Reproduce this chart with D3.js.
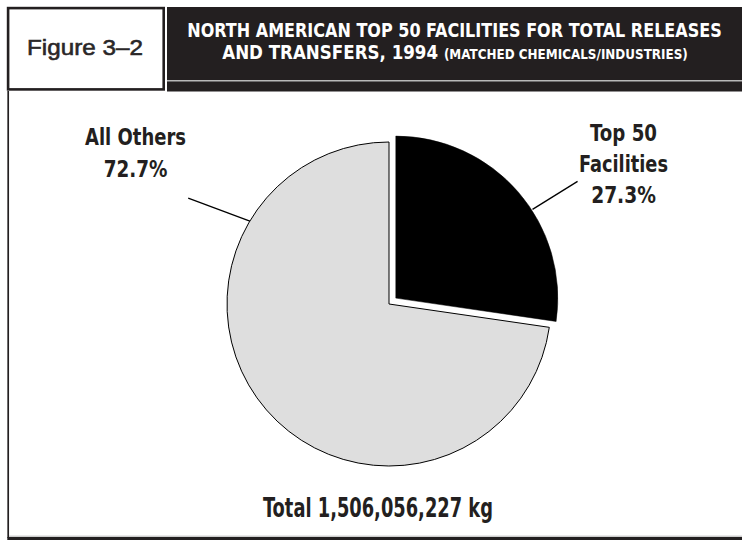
<!DOCTYPE html>
<html>
<head>
<meta charset="utf-8">
<script src="https://cdn.jsdelivr.net/npm/d3@7"></script>
<style>
  html, body { margin: 0; padding: 0; background: #fff; }
  svg { display: block; }
</style>
</head>
<body>
<svg id="chart" width="742" height="540"></svg>
<script>
// ---- data ----
const categories = ["Top 50 Facilities", "All Others"];
const values = [27.3, 72.7];
const labelLines = [["Top 50", "Facilities", "27.3%"], ["All Others", "72.7%"]];
const figureLabel = "Figure 3\u20132";
const titleLine1 = "NORTH AMERICAN TOP 50 FACILITIES FOR TOTAL RELEASES";
const titleLine2a = "AND TRANSFERS, 1994 ";
const titleLine2b = "(MATCHED CHEMICALS/INDUSTRIES)";
const totalLabel = "Total 1,506,056,227 kg";

const dark = "#231f20";
const condensed = "'Liberation Sans Narrow', 'DejaVu Sans Condensed', 'Liberation Sans', sans-serif";
const svg = d3.select("#chart");

// fit text horizontally: anchor middle at (cx, y), scale x to target width
function fitText(g, cx, y, targetW) {
  const t = g.select("text");
  const w = t.node().getBBox().width;
  g.attr("transform", `translate(${cx},${y}) scale(${targetW / w},1)`);
}

// ---- header ----
svg.append("rect").attr("x", 167).attr("y", 7).attr("width", 575).attr("height", 84.5).attr("fill", dark);
svg.append("line").attr("x1", 167).attr("x2", 742).attr("y1", 80.8).attr("y2", 80.8)
  .attr("stroke", "#b8b8b8").attr("stroke-width", 1.4);
svg.append("rect").attr("x", 8.1).attr("y", 8.1).attr("width", 155.6).attr("height", 81.3)
  .attr("fill", "#fff").attr("stroke", dark).attr("stroke-width", 2.6);

let g = svg.append("g");
g.append("text").attr("text-anchor", "middle").attr("font-family", "'Liberation Sans', Arial, sans-serif")
  .attr("font-weight", "normal").attr("font-size", 23).attr("fill", "#2a2728")
  .attr("stroke", "#2a2728").attr("stroke-width", 0.6).text(figureLabel);
fitText(g, 85, 55, 116);

g = svg.append("g");
g.append("text").attr("text-anchor", "middle").attr("font-family", condensed)
  .attr("font-weight", "bold").attr("font-size", 19.5).attr("fill", "#fff").text(titleLine1);
fitText(g, 454.5, 37, 535);

g = svg.append("g");
const t2 = g.append("text").attr("text-anchor", "middle").attr("font-family", condensed)
  .attr("font-weight", "bold").attr("fill", "#fff");
t2.append("tspan").attr("font-size", 19.5).text(titleLine2a);
t2.append("tspan").attr("font-size", 14).text(titleLine2b);
fitText(g, 455, 59, 466);

// ---- panel borders ----
svg.append("line").attr("x1", 8.2).attr("x2", 8.2).attr("y1", 91).attr("y2", 538)
  .attr("stroke", dark).attr("stroke-width", 1.7);
svg.append("line").attr("x1", 9).attr("x2", 742).attr("y1", 536.2).attr("y2", 536.2)
  .attr("stroke", "#b8b8b8").attr("stroke-width", 1);
svg.append("rect").attr("x", 7.3).attr("y", 537).attr("width", 735).attr("height", 3).attr("fill", dark);

// ---- pie ----
const cx = 389, cy = 304, r = 162;
const pie = d3.pie().sort(null).value(d => d)(values);
const arc = d3.arc().innerRadius(0).outerRadius(r);
const fills = ["#000000", "#dedede"];
const strokes = ["#000000", "#000000"];
const explode = [9, 0];

const slices = svg.append("g").attr("transform", `translate(${cx},${cy})`);
pie.forEach((p, i) => {
  const mid = (p.startAngle + p.endAngle) / 2;
  const dx = Math.sin(mid) * explode[i], dy = -Math.cos(mid) * explode[i];
  slices.append("path")
    .attr("d", arc(p))
    .attr("transform", `translate(${dx},${dy})`)
    .attr("fill", fills[i])
    .attr("stroke", strokes[i])
    .attr("stroke-width", i === 0 ? 0.5 : 1)
    .attr("stroke-linejoin", "miter");
});

// ---- leader lines (angle in degrees clockwise from 12 o'clock) ----
const leaders = [
  { inner: [57, r + 1], outer: [57.3, 216] },
  { inner: [300.8, r], outer: [297.8, 227] }
];
leaders.forEach((L, i) => {
  const p = pie[i];
  const mid = (p.startAngle + p.endAngle) / 2;
  const ox = Math.sin(mid) * explode[i], oy = -Math.cos(mid) * explode[i];
  const pt = ([a, rr]) => [cx + ox + Math.sin(a * Math.PI / 180) * rr, cy + oy - Math.cos(a * Math.PI / 180) * rr];
  const a = pt(L.inner), b = pt(L.outer);
  svg.append("line").attr("x1", a[0]).attr("y1", a[1]).attr("x2", b[0]).attr("y2", b[1])
    .attr("stroke", "#000").attr("stroke-width", 1.3);
});

// ---- labels ----
const labelPos = [
  { x: 623.5, y: 141, dy: 31, widths: [67, 89, 65] },
  { x: 135.5, y: 145, dy: 32, widths: [101, 64] }
];
labelLines.forEach((lines, i) => {
  const P = labelPos[i];
  lines.forEach((s, j) => {
    const lg = svg.append("g");
    lg.append("text").attr("text-anchor", "middle").attr("font-family", condensed)
      .attr("font-weight", "bold").attr("font-size", 23).attr("fill", dark).text(s);
    fitText(lg, P.x, P.y + j * P.dy, P.widths[j]);
  });
});

g = svg.append("g");
g.append("text").attr("text-anchor", "middle").attr("font-family", condensed)
  .attr("font-weight", "bold").attr("font-size", 27).attr("fill", dark).text(totalLabel);
fitText(g, 378, 517, 230);
</script>
</body>
</html>
